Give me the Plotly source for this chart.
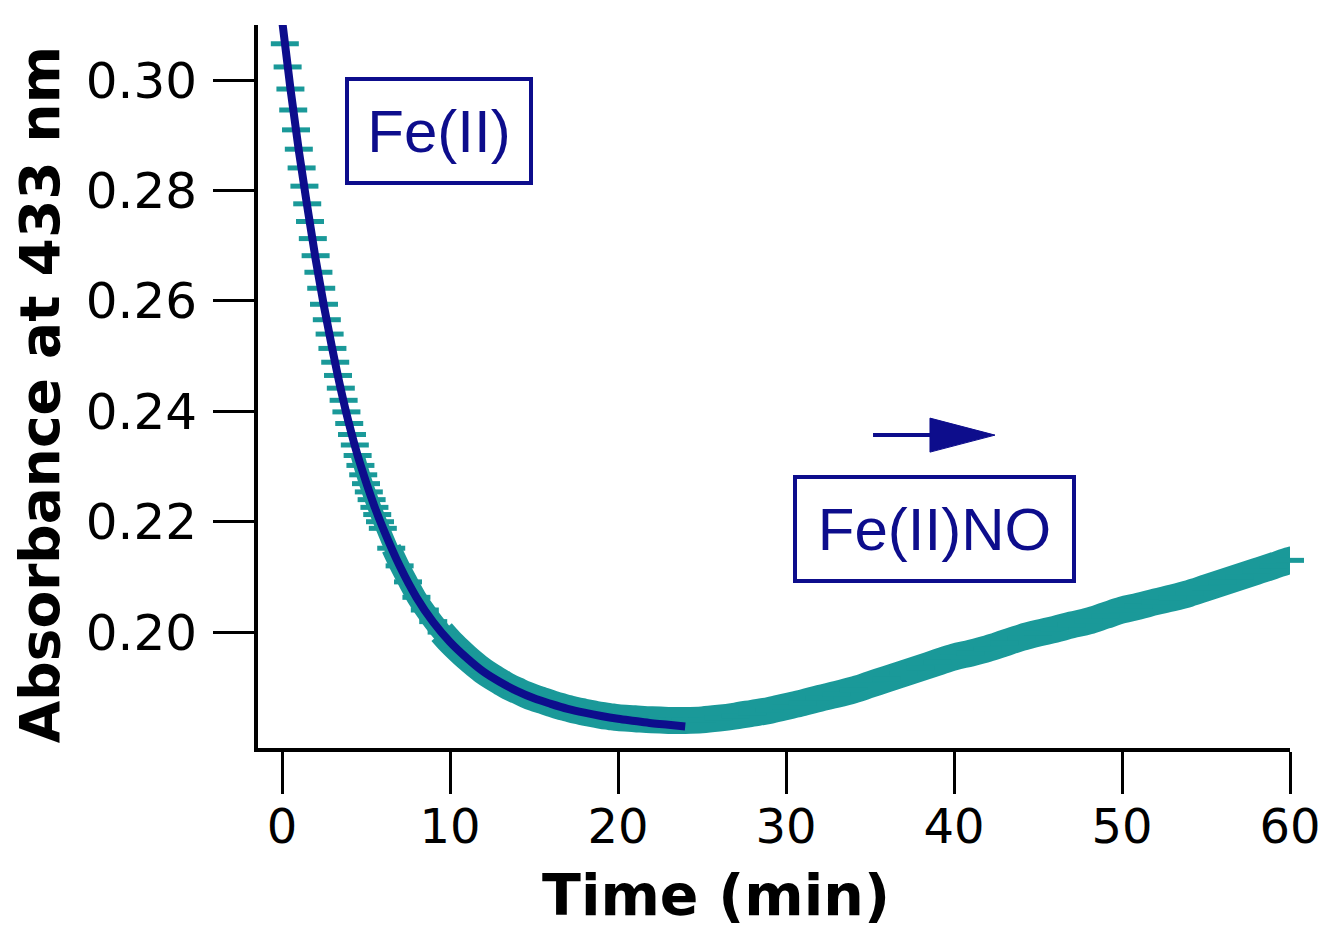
import plotly.graph_objects as go

# ---------------- data ----------------
# densely sampled early part (every 10 s) where single points are visible
t_early = [round(k / 6, 4) for k in range(0, 37)]
abs_early = [0.3110, 0.3066, 0.3024, 0.2984, 0.2946, 0.2910, 0.2875, 0.2841, 0.2808,
             0.2776, 0.2744, 0.2713, 0.2682, 0.2652, 0.2623, 0.2594, 0.2566, 0.2540,
             0.2514, 0.2489, 0.2465, 0.2442, 0.2420, 0.2399, 0.2378, 0.2358, 0.2339,
             0.2320, 0.2302, 0.2285, 0.2269, 0.2254, 0.2240, 0.2226, 0.2213, 0.2200,
             0.2188]
t_late = [6.5, 7, 7.5, 8, 8.5, 9, 9.5, 10, 10.5, 11, 11.5, 12, 12.5, 13, 13.5, 14,
          14.5, 15, 15.5, 16, 16.5, 17, 17.5, 18, 18.5, 19, 19.5, 20, 21, 22, 23, 24,
          25, 26, 27, 28, 29, 30, 31, 32, 33, 34, 35, 36, 37, 38, 39, 40, 41, 42, 43,
          44, 45, 46, 47, 48, 49, 50, 51, 52, 53, 54, 55, 56, 57, 58, 59, 60, 60.6]
abs_late = [0.2152, 0.2120, 0.2091, 0.2063, 0.2040, 0.2019, 0.2000, 0.1983, 0.1968,
            0.1954, 0.1941, 0.1929, 0.1919, 0.1910, 0.1901, 0.1894, 0.1887, 0.1881,
            0.1876, 0.1871, 0.1866, 0.1862, 0.1858, 0.1855, 0.1852, 0.1849, 0.1847,
            0.1845, 0.1843, 0.1841, 0.1840, 0.1840, 0.1841, 0.1844, 0.1848, 0.1853,
            0.1858, 0.1865, 0.1872, 0.1880, 0.1887, 0.1895, 0.1905, 0.1915, 0.1925,
            0.1935, 0.1945, 0.1955, 0.1962, 0.1970, 0.1980, 0.1990, 0.1998, 0.2005,
            0.2013, 0.2020, 0.2030, 0.2040, 0.2047, 0.2055, 0.2062, 0.2070, 0.2080,
            0.2090, 0.2100, 0.2110, 0.2120, 0.2130, 0.2133]

# exponential fit curve (navy)
t_fit = [0, 0.5, 1, 1.5, 2, 2.5, 3, 3.5, 4, 4.5, 5, 5.5, 6, 7, 8, 9, 10, 11, 12, 13,
         14, 15, 16, 17, 18, 19, 20, 21, 22, 23, 24]
abs_fit = [0.3110, 0.2985, 0.2872, 0.2772, 0.2676, 0.2590, 0.2512, 0.2440, 0.2376,
           0.2320, 0.2272, 0.2228, 0.2189, 0.2120, 0.2063, 0.2018, 0.1982, 0.1953,
           0.1928, 0.1909, 0.1893, 0.1880, 0.1870, 0.1861, 0.1854, 0.1848, 0.1843,
           0.1839, 0.1835, 0.1832, 0.1829]

x_ticks = [0, 10, 20, 30, 40, 50, 60]
y_ticks = [0.20, 0.22, 0.24, 0.26, 0.28, 0.30]

label_fe2 = "Fe(II)"
label_fe2no = "Fe(II)NO"
x_title = "Time (min)"
y_title = "Absorbance at 433 nm"

# ---------------- styles ----------------
TEAL = "#1a9999"
NAVY = "#0d0d8c"

t_all = t_early + t_late
abs_all = abs_early + abs_late


def segment(t0, t1):
    xs = [t for t in t_all if t0 <= t <= t1]
    ys = [a for t, a in zip(t_all, abs_all) if t0 <= t <= t1]
    return xs, ys


fig = go.Figure()

# continuous band where points overlap (thinner where the curve is steep)
for (t0, t1, w) in [(4.5, 7.5, 14), (6.5, 10.5, 20), (9.5, 61.0, 27)]:
    bx, by = segment(t0, t1)
    fig.add_trace(go.Scatter(x=bx, y=by, mode="lines", line_shape="spline",
                             line=dict(color=TEAL, width=w), hoverinfo="skip",
                             showlegend=False))
# individual points drawn as horizontal dashes
fig.add_trace(go.Scatter(x=t_all, y=abs_all, mode="markers",
                         marker=dict(symbol="line-ew", size=20, color=TEAL,
                                     line=dict(color=TEAL, width=5)),
                         cliponaxis=False, showlegend=False))
# fit
fig.add_trace(go.Scatter(x=t_fit, y=abs_fit, mode="lines", line_shape="spline",
                         line=dict(color=NAVY, width=8), showlegend=False))

# the page body adds an 8 px offset, so the figure is 8 px smaller and shifted
fig.update_layout(
    width=1318, height=925,
    margin=dict(l=250, r=36, t=17, b=185),
    paper_bgcolor="white", plot_bgcolor="white",
    font=dict(family="DejaVu Sans", color="black"),
    xaxis=dict(range=[-1.43, 60.0], tickvals=x_ticks, ticks="outside", ticklen=42,
               tickwidth=3, tickcolor="black", showline=True, linecolor="black",
               linewidth=4, showgrid=False, zeroline=False, automargin=False,
               tickfont=dict(family="DejaVu Sans", size=48, color="black"),
               ticklabelstandoff=-9),
    yaxis=dict(range=[0.1790, 0.3100], tickvals=y_ticks, tickformat=".2f",
               ticks="outside", ticklen=41, tickwidth=3, tickcolor="black",
               showline=True, linecolor="black", linewidth=4, showgrid=False,
               zeroline=False, automargin=False,
               tickfont=dict(family="DejaVu Sans", size=50, color="black"),
               ticklabelstandoff=6),
)

ann_font = dict(family="Liberation Sans, Arial", size=60, color=NAVY)
fig.add_annotation(x=9.32, y=0.29085, xref="x", yref="y", text=label_fe2,
                   showarrow=False, font=ann_font, bordercolor=NAVY, borderwidth=4,
                   borderpad=0, width=180, height=100, bgcolor="white")
fig.add_annotation(x=38.81, y=0.21875, xref="x", yref="y", text=label_fe2no,
                   showarrow=False, font=ann_font, bordercolor=NAVY, borderwidth=4,
                   borderpad=0, width=275, height=100, bgcolor="white")

# arrow (shaft + head)
fig.add_shape(type="line", x0=35.18, x1=39.0, y0=0.23569, y1=0.23569,
              xref="x", yref="y", line=dict(color=NAVY, width=4))
fig.add_shape(type="path", path="M 38.57 0.23877 L 42.44 0.23569 L 38.57 0.23261 Z",
              xref="x", yref="y", fillcolor=NAVY, line=dict(color=NAVY, width=1))

# axis titles
fig.add_annotation(x=0.4438, y=-0.203, xref="paper", yref="paper", text=x_title,
                   showarrow=False, xanchor="center", yanchor="middle",
                   font=dict(family="DejaVu Sans", size=57, color="black", weight="bold"))
fig.add_annotation(x=-0.2112, y=0.488, xref="paper", yref="paper", text=y_title,
                   showarrow=False, textangle=-90, xanchor="center", yanchor="middle",
                   font=dict(family="DejaVu Sans", size=55, color="black", weight="bold"))

fig.write_html("out.html")
